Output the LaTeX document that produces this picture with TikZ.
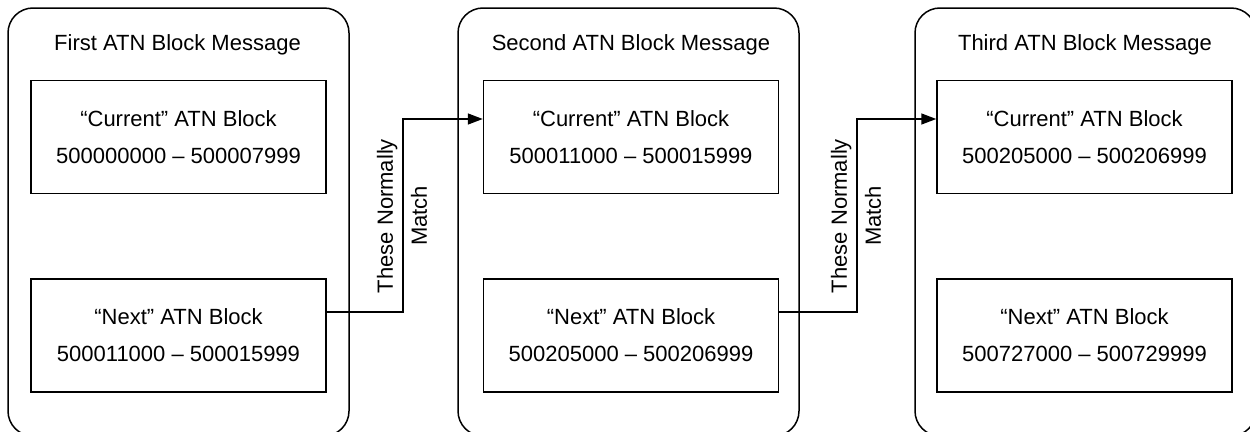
\documentclass[tikz,border=0pt]{standalone}
\usepackage{fontspec}
\setmainfont{Liberation Sans}
\usetikzlibrary{arrows.meta,calc}
\tikzset{
  msgbox/.style={draw, line width=1.5pt, rounded corners=25pt, minimum width=341pt, minimum height=428pt, inner sep=0pt},
  blockbox/.style={draw, line width=1.5pt, minimum width=295pt, minimum height=113pt, inner sep=0pt, align=center, font={\fontsize{22}{37}\selectfont}},
  titletext/.style={inner sep=0pt, font={\fontsize{22}{26}\selectfont}},
  matchlabel/.style={inner sep=0pt, rotate=90, align=center, font={\fontsize{22}{34}\selectfont}},
  link/.style={line width=1.5pt, -{Triangle[length=15pt,width=11pt]}}
}
\begin{document}
\begin{tikzpicture}[x=1pt,y=-1pt]
\useasboundingbox (0,0) rectangle (1250,431);
\clip (0,0) rectangle (1250,431);
% outer message boxes
\node[msgbox] (m1) at (178.5,222) {};
\node[msgbox] (m2) at (628.5,222) {};
\node[msgbox] (m3) at (1085.5,222) {};
% titles
\node[titletext] (t1) at (177.5,45) {First ATN Block Message};
\node[titletext] (t2) at (631,45) {Second ATN Block Message};
\node[titletext] (t3) at (1085,45) {Third ATN Block Message};
% inner blocks
\node[blockbox] (c1) at (178.5,137) {“Current” ATN Block\\500000000 – 500007999};
\node[blockbox] (n1) at (178.5,335.5) {“Next” ATN Block\\500011000 – 500015999};
\node[blockbox] (c2) at (631,137) {“Current” ATN Block\\500011000 – 500015999};
\node[blockbox] (n2) at (631,335.5) {“Next” ATN Block\\500205000 – 500206999};
\node[blockbox] (c3) at (1084.5,137) {“Current” ATN Block\\500205000 – 500206999};
\node[blockbox] (n3) at (1084.5,335.5) {“Next” ATN Block\\500727000 – 500729999};
% connectors
\coordinate (k1) at (403,119);
\coordinate (k2) at (857,119);
\draw[link] ([yshift=23.5pt]n1.east) -| (k1) -- (c2.west |- k1);
\draw[link] ([yshift=23.5pt]n2.east) -| (k2) -- (c3.west |- k2);
% labels
\node[matchlabel] (l1) at (402,216) {These Normally\\Match};
\node[matchlabel] (l2) at (856,216) {These Normally\\Match};
\end{tikzpicture}
\end{document}
